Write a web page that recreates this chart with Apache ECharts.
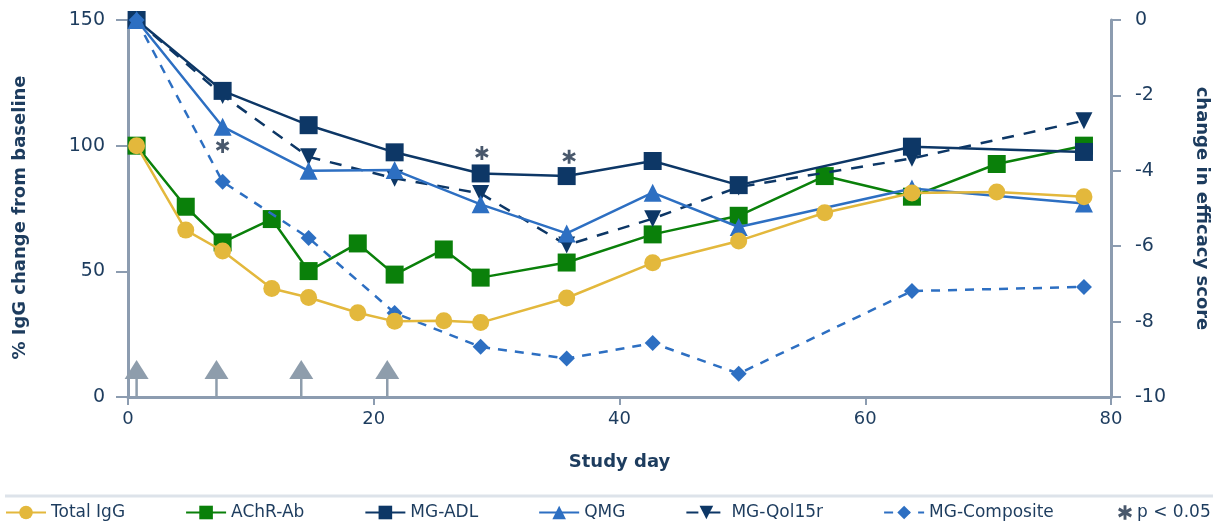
<!DOCTYPE html>
<html>
<head>
<meta charset="utf-8">
<title>IgG and efficacy score change by study day</title>
<script src="https://cdn.jsdelivr.net/npm/echarts@6.0.0/dist/echarts.min.js"></script>
<style>
  html, body { margin: 0; padding: 0; background: #fff; }
  #chart { width: 1219px; height: 525px; }
</style>
</head>
<body>
<div id="chart"></div>
<script>
  // days where IgG / AChR-Ab were sampled (left axis, % of baseline)
  const iggDays = [0.7, 4.7, 7.7, 11.7, 14.7, 18.7, 21.7, 25.7, 28.7, 35.7, 42.7, 49.7, 56.7, 63.8, 70.7, 77.8];
  const totalIgG = [100, 66.4, 58.1, 43.2, 39.6, 33.5, 30.1, 30.3, 29.6, 39.4, 53.4, 62.1, 73.3, 81.2, 81.6, 79.7];
  const achrAb = [100, 75.7, 61.5, 70.8, 50.1, 61.1, 48.7, 58.7, 47.5, 53.5, 64.7, 72.1, 87.9, 79.7, 92.7, 100];

  // efficacy scores (right axis, change from baseline)
  const scoreDays = [0.7, 7.7, 14.7, 21.7, 28.7, 35.7, 42.7, 49.7, 63.8, 77.8];
  const mgAdl = [0, -1.88, -2.79, -3.51, -4.07, -4.14, -3.74, -4.38, -3.36, -3.5];
  const qmg = [0, -2.83, -4.0, -3.98, -4.89, -5.66, -4.58, -5.49, -4.47, -4.87];
  const mgQol15r = [0, -2.0, -3.63, -4.2, -4.6, -5.97, -5.27, -4.43, -3.67, -2.67];
  const mgComposite = [0, -4.29, -5.78, -7.77, -8.67, -8.98, -8.57, -9.38, -7.19, -7.08];

  // p < 0.05 asterisks, placed on the right axis scale
  const sigDays = [7.7, 28.8, 35.9];
  const sigScores = [-3.34, -3.53, -3.63];

  // dosing arrows along the x axis
  const doseDays = [0.7, 7.2, 14.1, 21.1];

  // tick labels
  const dayTicks = [0, 20, 40, 60, 80];
  const iggTicks = [0, 50, 100, 150];
  const scoreTicks = [-10, -8, -6, -4, -2, 0];

  const navy = '#0d3766';
  const blue = '#2d6fc2';
  const textNavy = '#1d3c5e';
  const axisGray = '#8c9cb0';
  const arrowGray = '#8e9dac';
  const font = 'DejaVu Sans';

  const asterisk = 'path://M-1,-5L1,-5L1,5L-1,5Z' +
    'M3.83,-3.37L4.83,-1.63L-3.83,3.37L-4.83,1.63Z' +
    'M-4.83,-1.63L-3.83,-3.37L4.83,1.63L3.83,3.37Z';

  function pairs(xs, ys) {
    return xs.map((x, i) => [x, ys[i]]);
  }

  function lineSeries(name, days, values, axis, color, symbol, extra) {
    return Object.assign({
      name: name,
      type: 'line',
      yAxisIndex: axis,
      data: pairs(days, values),
      symbol: symbol,
      symbolSize: 17,
      lineStyle: { width: 2.5, color: color },
      itemStyle: { color: color },
      emphasis: { disabled: true }
    }, extra || {});
  }

  const chart = echarts.init(document.getElementById('chart'));

  chart.setOption({
    animation: false,
    backgroundColor: '#fff',
    grid: { left: 128, right: 108, top: 20, bottom: 128 },
    legend: [{
      left: 5,
      top: 504,
      padding: 0,
      itemWidth: 40,
      itemHeight: 17,
      itemGap: 60,
      textStyle: { fontSize: 17, color: textNavy, fontFamily: font },
      data: ['Total IgG', 'AChR-Ab', 'MG-ADL', 'QMG', 'MG-Qol15r', 'MG-Composite']
    }, {
      // asterisk key sits apart with a small icon
      left: 1118,
      top: 504,
      padding: 0,
      itemWidth: 14,
      itemHeight: 17,
      textStyle: { fontSize: 17, color: textNavy, fontFamily: font },
      data: ['p < 0.05']
    }],
    graphic: [{
      type: 'line',
      shape: { x1: 5, y1: 496, x2: 1213, y2: 496 },
      style: { stroke: '#dde3ea', lineWidth: 3 }
    }],
    xAxis: {
      type: 'value',
      min: dayTicks[0],
      max: dayTicks[dayTicks.length - 1],
      interval: dayTicks[1] - dayTicks[0],
      name: 'Study day',
      nameLocation: 'middle',
      nameGap: 56,
      nameTextStyle: { fontSize: 18, fontWeight: 'bold', color: textNavy, fontFamily: font },
      axisLine: { lineStyle: { color: axisGray, width: 3 } },
      axisTick: { length: 8, lineStyle: { color: axisGray, width: 2 } },
      axisLabel: { fontSize: 18, color: textNavy, margin: 13, fontFamily: font },
      splitLine: { show: false }
    },
    yAxis: [{
      type: 'value',
      position: 'left',
      min: iggTicks[0],
      max: iggTicks[iggTicks.length - 1],
      interval: iggTicks[1] - iggTicks[0],
      name: '% IgG change from baseline',
      nameLocation: 'middle',
      nameGap: 99,
      nameTextStyle: {
        fontSize: 18, fontWeight: 'bold', color: textNavy, fontFamily: font,
        padding: [0, 18, 0, 0]
      },
      axisLine: { show: true, lineStyle: { color: axisGray, width: 3 } },
      axisTick: { show: true, length: 12, lineStyle: { color: axisGray, width: 2 } },
      axisLabel: { fontSize: 19, color: textNavy, margin: 23, fontFamily: font },
      splitLine: { show: false }
    }, {
      type: 'value',
      position: 'right',
      min: scoreTicks[0],
      max: scoreTicks[scoreTicks.length - 1],
      interval: scoreTicks[1] - scoreTicks[0],
      name: 'change in efficacy score',
      nameLocation: 'middle',
      nameRotate: -90,
      nameGap: 82,
      nameTextStyle: { fontSize: 18, fontWeight: 'bold', color: textNavy, fontFamily: font },
      axisLine: { show: true, lineStyle: { color: axisGray, width: 3 } },
      axisTick: { show: true, length: 10, lineStyle: { color: axisGray, width: 2 } },
      axisLabel: { fontSize: 19, color: textNavy, margin: 24, fontFamily: font },
      splitLine: { show: false }
    }],
    series: [
      lineSeries('Total IgG', iggDays, totalIgG, 0, '#e3b83c', 'circle', { z: 8 }),
      lineSeries('AChR-Ab', iggDays, achrAb, 0, '#0a800a', 'rect', { z: 3, symbolSize: 18 }),
      lineSeries('MG-ADL', scoreDays, mgAdl, 1, navy, 'rect', { z: 5, symbolSize: 18 }),
      lineSeries('QMG', scoreDays, qmg, 1, blue, 'triangle', { z: 6, symbolSize: 18 }),
      lineSeries('MG-Qol15r', scoreDays, mgQol15r, 1, navy, 'triangle', {
        z: 4,
        symbolRotate: 180,
        lineStyle: { width: 2.5, color: navy, type: [12, 10] }
      }),
      lineSeries('MG-Composite', scoreDays, mgComposite, 1, blue, 'diamond', {
        z: 7,
        symbolSize: 16,
        lineStyle: { width: 2.5, color: blue, type: [9, 8] }
      }),
      {
        name: 'p < 0.05',
        type: 'scatter',
        yAxisIndex: 1,
        data: pairs(sigDays, sigScores),
        symbol: asterisk,
        symbolSize: [14, 14],
        symbolKeepAspect: true,
        itemStyle: { color: '#1b2e47' },
        z: 9
      },
      {
        // dosing arrows: stem from the axis up to a triangle head
        type: 'custom',
        yAxisIndex: 0,
        silent: true,
        z: 2,
        data: doseDays.map(d => [d, 0]),
        encode: { x: 0, y: 1 },
        renderItem(params, api) {
          const p = api.coord([api.value(0), 0]);
          return {
            type: 'group',
            children: [{
              type: 'line',
              shape: { x1: p[0], y1: p[1], x2: p[0], y2: p[1] - 19 },
              style: { stroke: arrowGray, lineWidth: 2.5 }
            }, {
              type: 'polygon',
              shape: { points: [[p[0] - 12, p[1] - 18], [p[0] + 12, p[1] - 18], [p[0], p[1] - 37]] },
              style: { fill: arrowGray }
            }]
          };
        }
      }
    ]
  });
</script>
</body>
</html>
